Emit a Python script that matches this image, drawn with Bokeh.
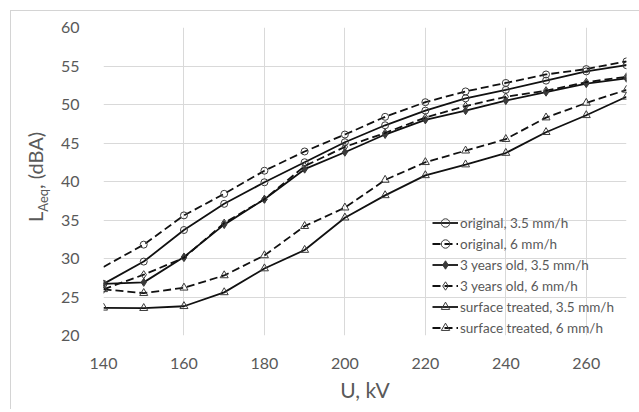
from bokeh.plotting import figure
from bokeh.models import Legend, LegendItem, FixedTicker, Range1d, Div, InlineStyleSheet
from bokeh.layouts import row, column
from bokeh.embed import file_html
from bokeh.resources import INLINE

# ---- data ----
voltage = [140, 150, 160, 170, 180, 190, 200, 210, 220, 230, 240, 250, 260, 270]
original_35 = [26.7, 29.6, 33.7, 37.1, 39.9, 42.5, 45.1, 47.3, 49.2, 50.8, 51.9, 53.1, 54.3, 55.1]
original_6 = [28.9, 31.8, 35.6, 38.4, 41.4, 43.9, 46.1, 48.4, 50.3, 51.7, 52.8, 53.9, 54.6, 55.6]
old_35 = [26.7, 26.9, 30.2, 34.4, 37.7, 41.6, 43.8, 46.1, 48.0, 49.2, 50.5, 51.6, 52.7, 53.4]
old_6 = [26.0, 27.9, 30.1, 34.6, 37.7, 42.0, 44.5, 46.3, 48.3, 49.8, 51.0, 51.8, 52.9, 53.6]
surface_35 = [23.6, 23.55, 23.8, 25.6, 28.7, 31.1, 35.3, 38.2, 40.8, 42.2, 43.7, 46.4, 48.6, 51.0]
surface_6 = [26.0, 25.5, 26.2, 27.8, 30.4, 34.2, 36.6, 40.2, 42.5, 44.0, 45.5, 48.3, 50.2, 51.9]

series_labels = ["original, 3.5 mm/h", "original, 6 mm/h",
                 "3 years old, 3.5 mm/h", "3 years old, 6 mm/h",
                 "surface treated, 3.5 mm/h", "surface treated, 6 mm/h"]
x_ticks = [140, 160, 180, 200, 220, 240, 260]
y_ticks = [20, 25, 30, 35, 40, 45, 50, 55, 60]
x_title = "U, kV"

FONT = "Lato"
TXT = "#595959"
LINE = "#111111"
MK = "#3a3a3a"
BORDER = "#d4d4d4"

p = figure(width=583, height=398, output_backend="svg", toolbar_location=None,
           x_range=Range1d(140, 270), y_range=Range1d(20, 60),
           min_border_left=40, min_border_right=14, min_border_top=16,
           min_border_bottom=74, margin=0)
p.outline_line_color = None
p.background_fill_color = "white"
p.border_fill_color = "white"

for ax in (p.xaxis[0], p.yaxis[0]):
    ax.axis_line_color = None
    ax.major_tick_line_color = None
    ax.minor_tick_line_color = None
    ax.major_label_text_color = TXT
    ax.major_label_text_font = FONT
    ax.major_label_text_font_size = "16px"
p.xaxis.ticker = FixedTicker(ticks=x_ticks)
p.yaxis.ticker = FixedTicker(ticks=y_ticks)
p.xaxis.major_label_standoff = 16
p.yaxis.major_label_standoff = 18
p.xaxis.axis_label = x_title
p.xaxis.axis_label_text_font = FONT
p.xaxis.axis_label_text_font_size = "21px"
p.xaxis.axis_label_text_font_style = "normal"
p.xaxis.axis_label_text_color = TXT
p.xaxis.axis_label_standoff = 5

p.xgrid.ticker = FixedTicker(ticks=x_ticks)
p.ygrid.ticker = FixedTicker(ticks=y_ticks)
p.xgrid.grid_line_color = "#d9d9d9"
p.ygrid.grid_line_color = "#d9d9d9"

items = []
specs = [
    (original_35, "solid", "circle", None, 7, 0),
    (original_6, "8 4", "circle", None, 7, 1),
    (old_35, "solid", "diamond", MK, 8, 0),
    (old_6, "8 4", "diamond", None, 8, 0),
    (surface_35, "solid", "triangle", None, 8, 0),
    (surface_6, "8 4", "triangle", None, 8, 0),
]
for (ys, dash, marker, fill, size, skip), lab in zip(specs, series_labels):
    ln = p.line(voltage, ys, line_color=LINE, line_width=1.8, line_dash=dash)
    sc = p.scatter(voltage[skip:], ys[skip:], marker=marker, size=size,
                   line_color=MK, line_width=1, fill_color=fill)
    items.append(LegendItem(label=lab, renderers=[ln, sc]))

legend = Legend(items=items, location=(329, -3), orientation="vertical",
                glyph_width=26, glyph_height=21, label_height=21,
                label_standoff=2, spacing=0, padding=0, margin=0,
                background_fill_alpha=0, border_line_color=None,
                label_text_font=FONT, label_text_font_size="13.5px",
                label_text_color=TXT)
p.add_layout(legend, "center")

# y-axis title with subscript, rotated
ytitle_html = (
    '<div style="display:inline-block; white-space:nowrap; font-family:Lato; '
    'font-size:20px; line-height:20px; color:#595959; transform-origin:0 0; '
    'transform:translate(13.5px, 211px) rotate(-90deg);">'
    'L<sub style="font-size:13px; line-height:0; vertical-align:-5px;">Aeq</sub>, (dBA)</div>'
)
ylab = Div(text=ytitle_html, width=46, height=398, margin=0)

frame_css = InlineStyleSheet(css=(
    ":host { border-left: 1px solid %s !important; border-top: 1px solid %s !important; "
    "box-sizing: content-box; }" % (BORDER, BORDER)))

layout = row(ylab, p, margin=(10, 0, 0, 10), stylesheets=[frame_css])

open("out.html", "w").write(file_html(layout, INLINE))
